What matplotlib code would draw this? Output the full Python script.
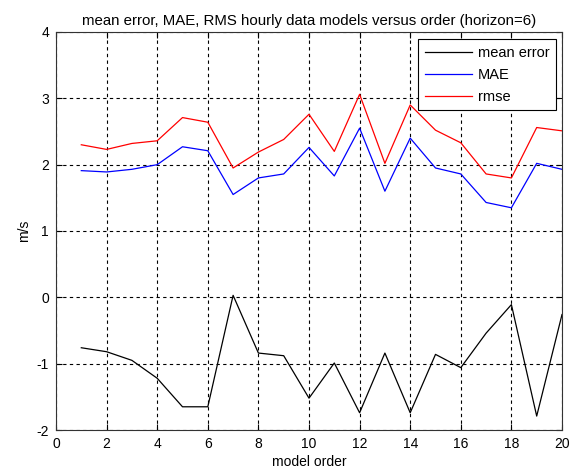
import matplotlib
matplotlib.use("Agg")
import matplotlib.pyplot as plt
import numpy as np

plt.rcParams['font.family'] = ['Liberation Sans', 'DejaVu Sans']
plt.rcParams['axes.unicode_minus'] = False

order = list(range(1, 21))
mean_error = [-0.76, -0.82, -0.95, -1.22, -1.65, -1.65, 0.03, -0.84, -0.88, -1.52,
              -0.99, -1.74, -0.84, -1.74, -0.86, -1.06, -0.54, -0.11, -1.79, -0.26]
mae = [1.91, 1.89, 1.93, 2.00, 2.27, 2.21, 1.55, 1.80, 1.86, 2.26,
       1.83, 2.55, 1.60, 2.40, 1.95, 1.86, 1.43, 1.35, 2.02, 1.93]
rmse = [2.30, 2.23, 2.32, 2.36, 2.71, 2.64, 1.95, 2.19, 2.38, 2.76,
        2.20, 3.06, 2.02, 2.90, 2.52, 2.33, 1.86, 1.80, 2.56, 2.51]
xticks = list(range(0, 21, 2))
yticks = list(range(-2, 5))

fig = plt.figure(figsize=(5.74, 4.73), dpi=100)
ax = fig.add_axes([56/574, 1 - 430/473, (562-56)/574, (430-32)/473])

ax.plot(order, mean_error, color='black', lw=0.9, label='mean error')
ax.plot(order, mae, color='blue', lw=0.9, label='MAE')
ax.plot(order, rmse, color='red', lw=0.9, label='rmse')

ax.set_xlim(0, 20)
ax.set_ylim(-2, 4)
ax.set_xticks(xticks)
ax.set_yticks(yticks)
ax.tick_params(direction='in', labelsize=10, length=4, top=True, right=True, pad=5)
ax.grid(True, color='black', linestyle=(0, (3, 3)), linewidth=0.8)
for s in ax.spines.values():
    s.set_color('#333333')

ax.set_title('mean error, MAE, RMS hourly data models versus order (horizon=6)', fontsize=10.8, pad=5)
ax.set_xlabel('model order', fontsize=10, labelpad=3)
ax.set_ylabel('m/s', fontsize=10, labelpad=4)

leg = ax.legend(loc='upper right', fontsize=10.5, fancybox=False, framealpha=1,
                edgecolor='black', bbox_to_anchor=(555.7/574, 1 - 39.3/473),
                bbox_transform=fig.transFigure, borderaxespad=0,
                handlelength=3.2, handletextpad=0.4,
                labelspacing=0.55, borderpad=0.45)
leg.get_frame().set_linewidth(0.8)

fig.savefig('out.png', dpi=100)
